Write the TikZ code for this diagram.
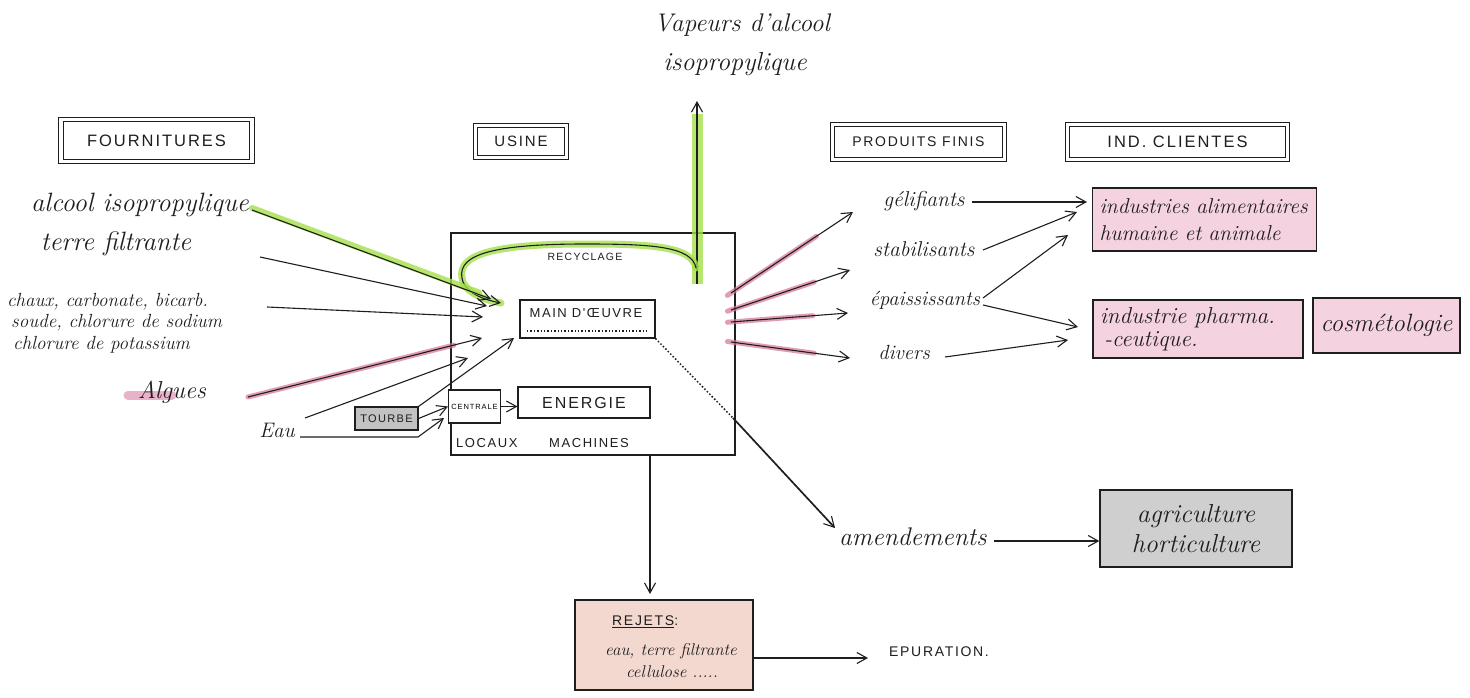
\documentclass[tikz,border=0pt]{standalone}
\usepackage{fontspec}
\newfontfamily\capsf[LetterSpace=12]{Liberation Sans}
\usetikzlibrary{arrows.meta,calc}
\definecolor{ink}{HTML}{1E1E1E}
\definecolor{lgreen}{HTML}{A4E04C}
\definecolor{lpink}{HTML}{D8739B}
\definecolor{boxpink}{HTML}{F5D2E0}
\definecolor{boxsalmon}{HTML}{F2D8CE}
\definecolor{boxgray}{HTML}{CFCFCF}
\definecolor{tgray}{HTML}{C2C2C2}
\begin{document}
\begin{tikzpicture}[x=1pt,y=-1pt,
  ln/.style={line width=1.1pt, draw=ink},
  arr/.style={ln, -{Straight Barb[length=10pt,width=11pt,line width=1.1pt]}},
  hand/.style={font=\itshape\fontsize{#1}{#1}\selectfont, inner sep=1pt, text=ink},
  cap/.style={font=\capsf\fontsize{#1}{#1}\selectfont, inner sep=1pt, text=ink},
  dframe/.style={draw=ink, line width=1pt, double, double distance=3.5pt},
  boxx/.style={draw=ink, line width=1.2pt},
  hlg/.style={line width=8pt, draw=lgreen, opacity=0.8, line cap=round},
  hlp/.style={line width=5pt, draw=lpink, opacity=0.7, line cap=round},
]
\fill[white] (0,0) rectangle (1470,698);
\useasboundingbox (0,0) rectangle (1470,698);

% ---------- headers ----------
\node[dframe, minimum width=191pt, minimum height=42pt, cap=16.5] (fourn) at (156.5,140.5) {FOURNITURES};
\node[dframe, minimum width=91pt, minimum height=32pt, cap=15] (usine) at (521,141.5) {USINE};
\node[dframe, minimum width=172pt, minimum height=35pt, cap=14] (prod) at (918.5,142) {PRODUITS FINIS};
\node[dframe, minimum width=220pt, minimum height=35pt, cap=16.5] (clients) at (1177.5,142) {IND.\ CLIENTES};

% ---------- plant ----------
\node[boxx, minimum width=284pt, minimum height=222pt] (plant) at (593,344) {};
\node[boxx, line width=1.1pt, minimum width=135pt, minimum height=38pt] (mo) at (587.5,319) {};
\node[cap=13] (motext) at (586,313) {MAIN D'ŒUVRE};
\draw[ink, dotted, line width=1.4pt] (527,331) -- (649,331);
\node[boxx, line width=1.1pt, fill=white, minimum width=52pt, minimum height=33pt, inner sep=0pt, font=\capsf\fontsize{7.5}{7.5}\selectfont] (centrale) at (474.5,406.5) {CENTRALE};
\node[boxx, line width=1.1pt, minimum width=132pt, minimum height=31pt, cap=16] (energie) at (584,402.5) {ENERGIE};
\node[cap=13, anchor=west] (locaux) at (455,443) {LOCAUX};
\node[cap=13, anchor=west] (machines) at (548,443) {MACHINES};
\node[cap=10.5] (recy) at (585,257) {RECYCLAGE};
\node[boxx, line width=1.1pt, fill=tgray, minimum width=63pt, minimum height=23pt, cap=11] (tourbe) at (386.5,418.5) {TOURBE};

% ---------- vapours ----------
\node[hand=25.5] (vap1) at (742,25) {Vapeurs d'alcool};
\node[hand=26] (vap2) at (735,64) {isopropylique};
\coordinate (vbot) at (697,284);
\coordinate (vtop) at (697,101);
\draw[hlg, line width=11pt, line cap=butt] (vbot) -- (697,114);
\draw[arr] (vbot) -- (vtop);

% recycling loop
\coordinate (rstart) at (696,268);
\coordinate (rend) at (501,303);
\draw[hlg, line width=7pt] (rstart) .. controls (692,246) and (650,244) .. (585,244) .. controls (480,244) and (455,258) .. (463,282) .. controls (468,294) and (485,300) .. (rend);
\draw[arr] (rstart) .. controls (692,246) and (650,244) .. (585,244) .. controls (480,244) and (455,258) .. (463,282) .. controls (468,294) and (485,300) .. (rend);

% ---------- supplies ----------
\node[hand=26.5] (alc) at (140,205) {alcool isopropylique};
\node[hand=26.5] (terre) at (116,244) {terre filtrante};
\node[hand=19, anchor=west] (chaux1) at (6,302) {chaux, carbonate, bicarb.};
\node[hand=19, anchor=west] (chaux2) at (10,323) {soude, chlorure de sodium};
\node[hand=19, anchor=west] (chaux3) at (12,345) {chlorure de potassium};
\draw[hlp, line width=9pt, opacity=0.55] (128,395) -- (172,395);
\node[hand=24.5] (alg) at (172,392) {Algues};
\node[hand=21] (eau) at (277,430) {Eau};

\coordinate (a0) at (252,210); \coordinate (a1) at (491,299);
\draw[hlg, line width=6pt] ($(a0)+(0,-2)$) -- ($(a0)!0.95!(a1)+(0,-2)$);
\draw[arr] (a0) -- (a1);
\coordinate (t0) at (260,257); \coordinate (t1) at (487,306);
\draw[arr] (t0) -- (t1);
\coordinate (c0) at (267,307); \coordinate (c1) at (483,317);
\draw[arr] (c0) -- (c1);
\coordinate (g0) at (248,397); \coordinate (g1) at (482,338);
\draw[hlp] (g0) -- ($(g0)!0.88!(g1)$);
\draw[arr] (g0) -- (g1);
\coordinate (e0) at (305,418); \coordinate (e1) at (468,358);
\draw[arr] (e0) -- (e1);
\coordinate (e2) at (300,437); \coordinate (e3) at (418,437); \coordinate (e4) at (444,418);
\draw[arr] (e2) -- (e3) -- (e4);
\coordinate (mo1) at (514,338);
\draw[arr] (tourbe.north east) -- (mo1);
\draw[arr] (tourbe.east) -- (centrale.west);
\draw[arr] (centrale.east) -- (centrale.east -| energie.west);

% ---------- products ----------
\node[hand=21.5] (gel) at (924,201) {gélifiants};
\node[hand=21.5] (stab) at (924,249) {stabilisants};
\node[hand=20.5] (epai) at (925,300) {épaississants};
\node[hand=20.5] (div) at (904,352) {divers};

\coordinate (p1) at (731,293); \coordinate (p1e) at (853,212);
\coordinate (p2) at (731,310); \coordinate (p2e) at (850,270);
\coordinate (p3) at (731,322); \coordinate (p3e) at (848,313);
\coordinate (p4) at (731,342); \coordinate (p4e) at (850,358);
\foreach \s/\e in {p1/p1e,p2/p2e,p3/p3e,p4/p4e}{
  \draw[hlp] ($(\s)!-0.03!(\e)$) -- ($(\s)!0.7!(\e)$);
  \draw[arr] (\s) -- (\e);
}

% ---------- client industries ----------
\node[boxx, fill=boxpink, minimum width=224pt, minimum height=63pt, hand=21.5, text width=210pt, align=left] (alim) at (1204.5,219.5) {industries alimentaires\\[6pt]humaine et animale};
\node[boxx, fill=boxpink, minimum width=210pt, minimum height=58pt, hand=23, text width=196pt, align=left] (pharma) at (1198,329) {industrie pharma.\\[0pt]\hspace*{4pt}-ceutique.};
\node[boxx, fill=boxpink, minimum width=147pt, minimum height=55pt, hand=25] (cosmo) at (1386.5,325.5) {cosmétologie};

\coordinate (q1s) at (972,202); \coordinate (q1e) at (1087,202);
\coordinate (q2s) at (983,250); \coordinate (q2e) at (1077,212);
\coordinate (q3s) at (983,298); \coordinate (q3e) at (1068,235);
\coordinate (q4s) at (983,305); \coordinate (q4e) at (1078,327);
\coordinate (q5s) at (945,357); \coordinate (q5e) at (1068,340);
\foreach \s/\e in {q1s/q1e,q2s/q2e,q3s/q3e,q4s/q4e,q5s/q5e}{
  \draw[arr] (\s) -- (\e);
}

% ---------- amendements ----------
\coordinate (bend) at (733,418);
\coordinate (amtip) at (835,528);
\draw[ink, dotted, line width=1.5pt] (mo.south east) -- (bend);
\draw[arr, line width=1.7pt] (bend) -- (amtip);
\node[hand=25.5, anchor=west] (amend) at (838,537) {amendements};
\node[boxx, line width=1.4pt, fill=boxgray, minimum width=192pt, minimum height=77pt, hand=26, align=center] (agri) at (1196,528.5) {agriculture\\[4pt]horticulture};
\coordinate (amout) at (994,541);
\draw[arr] (amout) -- (amout -| agri.west);

% ---------- rejets ----------
\coordinate (dn0) at (650,455);
\coordinate (dn1) at (650,594);
\draw[arr] (dn0) -- (dn1);
\node[boxx, fill=boxsalmon, minimum width=178pt, minimum height=90pt] (rejets) at (664,645) {};
\node[cap=14, anchor=west] (rejtitle) at (611,622) {\underline{REJETS}:};
\node[hand=17] (rej1) at (671,651) {eau, terre filtrante};
\node[hand=17] (rej2) at (672,672) {cellulose .....};
\node[cap=14, anchor=west] (epur) at (888,652) {EPURATION.};
\coordinate (rj0) at ($(rejets.east)+(0,13)$);
\coordinate (rj1) at (868,658);
\draw[arr] (rj0) -- (rj1);
\end{tikzpicture}
\end{document}
